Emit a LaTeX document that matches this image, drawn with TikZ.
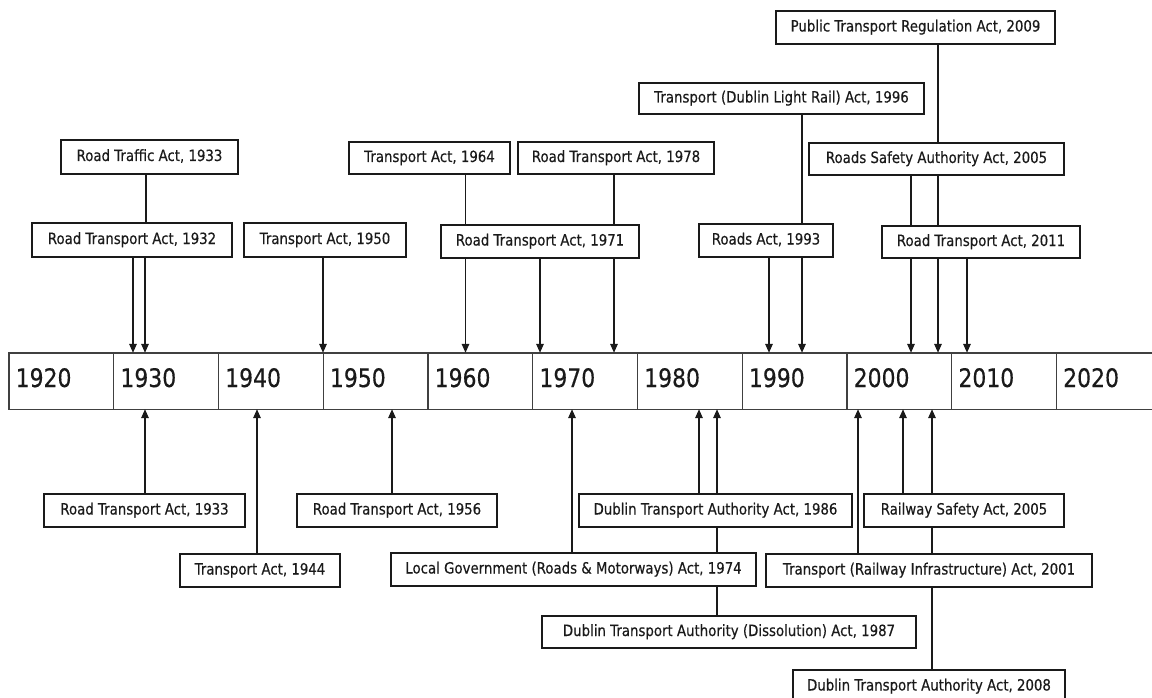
\documentclass[tikz,border=0pt]{standalone}
\usepackage{fontspec}
\setmainfont{DejaVu Sans}[FakeStretch=0.86,FakeBold=0.35]
\usetikzlibrary{arrows.meta}
\definecolor{ink}{HTML}{1A1A1A}
\definecolor{axis}{HTML}{404040}
\tikzset{
  act/.style={draw=ink, line width=1.7pt, fill=white, inner sep=0pt,
    font=\fontsize{15.5}{18}\selectfont, text=ink, minimum height=33pt,
    text height=11.5pt, text depth=3.5pt},
  link/.style={line width=1.5pt, draw=ink},
  arr/.style={link, -{Triangle[length=9pt,width=7.5pt]}},
  tline/.style={line width=1.4pt, draw=axis},
  year/.style={font=\fontsize{25.5}{30}\selectfont, text=ink, anchor=base west, inner sep=0pt},
}
\begin{document}
\begin{tikzpicture}[x=1pt,y=-1pt]
\useasboundingbox (0,0) rectangle (1152,698);
\fill[white] (0,0) rectangle (1152,698);

% timeline
\node[inner sep=0pt, minimum width=1143pt, minimum height=56pt] (tl) at (580.5,381) {};
\draw[tline] (tl.north east) -- (tl.north west) -- (tl.south west) -- (tl.south east);
\foreach \k in {1,...,10} { \draw[tline] (9+104.75*\k,353) -- (9+104.75*\k,409); }
\foreach \yr [count=\k from 0] in {1920,1930,1940,1950,1960,1970,1980,1990,2000,2010,2020}
  { \node[year] (y\yr) at (15.5+104.75*\k,387) {\yr}; }

% top row boxes
\node[act, minimum width=279pt] (ptr09) at (915.5,27.5) {Public Transport Regulation Act, 2009};
\node[act, minimum width=285pt, minimum height=31pt] (dlr96) at (781.5,98.5) {Transport (Dublin Light Rail) Act, 1996};
\node[act, minimum width=177pt, minimum height=34pt] (rta33) at (149.5,157) {Road Traffic Act, 1933};
\node[act, minimum width=161pt, minimum height=32pt] (ta64) at (429.5,158) {Transport Act, 1964};
\node[act, minimum width=196pt, minimum height=32pt] (rt78) at (616,158) {Road Transport Act, 1978};
\node[act, minimum width=255pt, minimum height=32pt] (rsa05) at (936.5,159) {Roads Safety Authority Act, 2005};

\node[act, minimum width=200pt, minimum height=34pt] (rt32) at (132,240) {Road Transport Act, 1932};
\node[act, minimum width=162pt, minimum height=34pt] (ta50) at (325,240) {Transport Act, 1950};
\node[act, minimum width=198pt] (rt71) at (540,241.5) {Road Transport Act, 1971};
\node[act, minimum width=134pt] (ra93) at (766,240.5) {Roads Act, 1993};
\node[act, minimum width=198pt, minimum height=32pt] (rt11) at (981,242) {Road Transport Act, 2011};

% bottom boxes
\node[act, minimum width=201pt] (rt33) at (144.5,510.5) {Road Transport Act, 1933};
\node[act, minimum width=200pt] (rt56) at (397,510.5) {Road Transport Act, 1956};
\node[act, minimum width=273pt] (dta86) at (715.5,510.5) {Dublin Transport Authority Act, 1986};
\node[act, minimum width=200pt] (rsafe05) at (964,510.5) {Railway Safety Act, 2005};
\node[act, minimum width=160pt] (ta44) at (260,570.5) {Transport Act, 1944};
\node[act, minimum width=365pt] (lg74) at (573.5,569.5) {Local Government (Roads \& Motorways) Act, 1974};
\node[act, minimum width=326pt] (tri01) at (929,570.5) {Transport (Railway Infrastructure) Act, 2001};
\node[act, minimum width=374pt, minimum height=32pt] (dtad87) at (729,632) {Dublin Transport Authority (Dissolution) Act, 1987};
\node[act, minimum width=272pt] (dta08) at (929,686.5) {Dublin Transport Authority Act, 2008};

% top connectors
\draw[link] (rta33.south -| 146,0) -- (rt32.north -| 146,0);
\draw[arr] (rt32.south -| 133,0) -- (tl.north -| 133,0);
\draw[arr] (rt32.south -| 145,0) -- (tl.north -| 145,0);
\draw[arr] (ta50.south -| 323,0) -- (tl.north -| 323,0);
\draw[link] (ta64.south -| 465.5,0) -- (rt71.north -| 465.5,0);
\draw[link] (rt78.south -| 614,0) -- (rt71.north -| 614,0);
\draw[arr] (rt71.south -| 465.5,0) -- (tl.north -| 465.5,0);
\draw[arr] (rt71.south -| 540,0) -- (tl.north -| 540,0);
\draw[arr] (rt71.south -| 614,0) -- (tl.north -| 614,0);
\draw[link] (dlr96.south -| 802,0) -- (ra93.north -| 802,0);
\draw[arr] (ra93.south -| 769,0) -- (tl.north -| 769,0);
\draw[arr] (ra93.south -| 802,0) -- (tl.north -| 802,0);
\draw[link] (ptr09.south -| 938,0) -- (rsa05.north -| 938,0);
\draw[link] (rsa05.south -| 911,0) -- (rt11.north -| 911,0);
\draw[link] (rsa05.south -| 938,0) -- (rt11.north -| 938,0);
\draw[arr] (rt11.south -| 911,0) -- (tl.north -| 911,0);
\draw[arr] (rt11.south -| 938,0) -- (tl.north -| 938,0);
\draw[arr] (rt11.south -| 967,0) -- (tl.north -| 967,0);

% bottom connectors
\draw[arr] (rt33.north -| 145,0) -- (tl.south -| 145,0);
\draw[arr] (ta44.north -| 257,0) -- (tl.south -| 257,0);
\draw[arr] (rt56.north -| 392,0) -- (tl.south -| 392,0);
\draw[arr] (lg74.north -| 572,0) -- (tl.south -| 572,0);
\draw[arr] (dta86.north -| 699,0) -- (tl.south -| 699,0);
\draw[arr] (dta86.north -| 717,0) -- (tl.south -| 717,0);
\draw[link] (dta86.south -| 717,0) -- (lg74.north -| 717,0);
\draw[link] (lg74.south -| 717,0) -- (dtad87.north -| 717,0);
\draw[arr] (tri01.north -| 858,0) -- (tl.south -| 858,0);
\draw[arr] (rsafe05.north -| 903,0) -- (tl.south -| 903,0);
\draw[arr] (rsafe05.north -| 932,0) -- (tl.south -| 932,0);
\draw[link] (rsafe05.south -| 932,0) -- (tri01.north -| 932,0);
\draw[link] (tri01.south -| 932,0) -- (dta08.north -| 932,0);
\end{tikzpicture}
\end{document}
